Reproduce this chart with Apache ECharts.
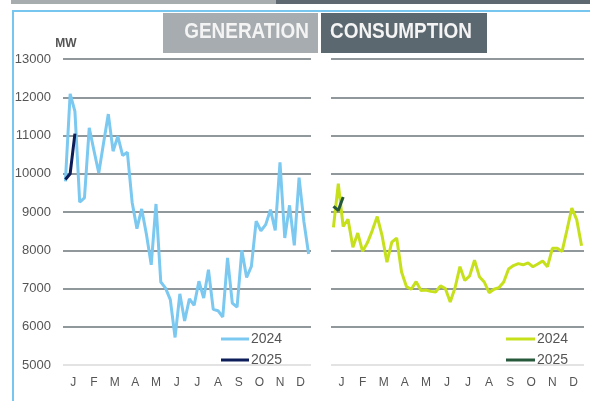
<!DOCTYPE html>
<html>
<head>
<meta charset="utf-8">
<script src="https://cdn.jsdelivr.net/npm/echarts@6/dist/echarts.min.js"></script>
<style>
  html, body { margin: 0; padding: 0; background: #fff; }
  #chart { width: 590px; height: 401px; }
</style>
</head>
<body>
<div id="chart"></div>
<script>
// weekly values, MW
var months = ['J', 'F', 'M', 'A', 'M', 'J', 'J', 'A', 'S', 'O', 'N', 'D']
var weeks = []
for (var w = 1; w <= 52; w++) weeks.push('W' + w)

var gen2024 = [9800, 12090, 11630, 9260, 9370, 11200, 10600, 10020, 10800, 11560,
  10590, 10980, 10480, 10560, 9250, 8565, 9080, 8410, 7620, 9210,
  7170, 7010, 6710, 5720, 6860, 6150, 6730, 6560, 7190, 6750,
  7490, 6455, 6420, 6255, 7800, 6620, 6510, 8000, 7290, 7580,
  8760, 8510, 8670, 9060, 8520, 10300, 8320, 9175, 8130, 9900,
  8760, 7900]
var gen2025 = [9850, 10000, 11050]

var con2024 = [8600, 9740, 8620, 8810, 8080, 8450, 7970, 8200, 8520, 8880,
  8380, 7690, 8210, 8320, 7430, 7050, 6980, 7180, 6950, 6960,
  6925, 6910, 7070, 7000, 6650, 7020, 7570, 7210, 7330, 7740,
  7310, 7170, 6890, 6980, 7020, 7170, 7510, 7600, 7650, 7620,
  7670, 7570, 7640, 7720, 7570, 8050, 8050, 7970, 8530, 9100,
  8800, 8120]
var con2025 = [9150, 9040, 9390]

var splitColors = ['#dadada', '#6d767b', '#6d767b', '#6d767b', '#6d767b', '#6d767b', '#6d767b', '#6d767b', '#6d767b']

var chart = echarts.init(document.getElementById('chart'))

function weekAxis(grid) {
  return {
    type: 'category', gridIndex: grid, data: weeks, boundaryGap: true,
    position: 'bottom', show: false
  }
}
function monthAxis(grid) {
  return {
    type: 'category', gridIndex: grid, data: months, boundaryGap: true,
    position: 'bottom',
    axisLine: { show: false }, axisTick: { show: false },
    axisLabel: { color: '#555', fontSize: 12, margin: 12, fontFamily: 'Liberation Sans' }
  }
}
function valAxis(grid, labels) {
  return {
    type: 'value', gridIndex: grid, min: 5000, max: 13000, interval: 1000,
    axisLine: { show: false }, axisTick: { show: false },
    axisLabel: {
      show: labels, color: '#555', fontSize: 13, margin: 12, fontFamily: 'Liberation Sans',
      formatter: function(v) { return String(v) }
    },
    splitLine: { lineStyle: { color: splitColors, width: 1.5 } }
  }
}
function lineSeries(name, x, y, data, color) {
  return {
    name: name, type: 'line', xAxisIndex: x, yAxisIndex: y, data: data,
    symbol: 'none', lineStyle: { color: color, width: 3 }, itemStyle: { color: color },
    z: name.indexOf('2025') > 0 ? 3 : 2
  }
}

chart.setOption({
  animation: false,
  grid: [
    { left: 63, right: 279, top: 59, bottom: 36 },
    { left: 331, right: 6, top: 59, bottom: 36 }
  ],
  xAxis: [weekAxis(0), monthAxis(0), weekAxis(1), monthAxis(1)],
  yAxis: [valAxis(0, true), valAxis(1, false)],
  legend: [
    {
      data: ['Gen 2024', 'Gen 2025'], left: 216, top: 327, orient: 'vertical',
      icon: 'rect', itemWidth: 28, itemHeight: 3, itemGap: 7,
      formatter: function(n) { return n.slice(-4) },
      textStyle: { color: '#555', fontSize: 14, fontFamily: 'Liberation Sans', padding: [0, 0, 0, -3] }
    },
    {
      data: ['Con 2024', 'Con 2025'], left: 501, top: 327, orient: 'vertical',
      icon: 'rect', itemWidth: 29, itemHeight: 3, itemGap: 7,
      formatter: function(n) { return n.slice(-4) },
      textStyle: { color: '#555', fontSize: 14, fontFamily: 'Liberation Sans', padding: [0, 0, 0, -3] }
    }
  ],
  graphic: [
    { type: 'rect', shape: { x: 11, y: 0, width: 265, height: 4 }, style: { fill: '#a7acaf' } },
    { type: 'rect', shape: { x: 276, y: 0, width: 314, height: 4 }, style: { fill: '#5d6870' } },
    { type: 'line', shape: { x1: 12, y1: 11, x2: 590, y2: 11 }, style: { stroke: '#77c6ef', lineWidth: 2 } },
    { type: 'line', shape: { x1: 13, y1: 10, x2: 13, y2: 401 }, style: { stroke: '#77c6ef', lineWidth: 2 } },
    { type: 'rect', shape: { x: 163, y: 13, width: 155, height: 40 }, style: { fill: '#a6acaf' } },
    { type: 'rect', shape: { x: 321, y: 13, width: 166, height: 40 }, style: { fill: '#5c6870' } },
    {
      type: 'text', x: 309, y: 32, scaleX: 0.86,
      style: { text: 'GENERATION', fill: '#f4f4f4', font: 'bold 22px "Liberation Sans"', align: 'right', verticalAlign: 'middle' }
    },
    {
      type: 'text', x: 330, y: 32, scaleX: 0.86,
      style: { text: 'CONSUMPTION', fill: '#f4f4f4', font: 'bold 22px "Liberation Sans"', align: 'left', verticalAlign: 'middle' }
    },
    {
      type: 'text', x: 66, y: 44,
      style: { text: 'MW', fill: '#555', font: 'bold 12px "Liberation Sans"', align: 'center', verticalAlign: 'middle' }
    }
  ],
  series: [
    lineSeries('Gen 2024', 0, 0, gen2024, '#7bc8f0'),
    lineSeries('Gen 2025', 0, 0, gen2025, '#0c1d5a'),
    lineSeries('Con 2024', 2, 1, con2024, '#c6e01c'),
    lineSeries('Con 2025', 2, 1, con2025, '#26583a')
  ]
})
</script>
</body>
</html>
